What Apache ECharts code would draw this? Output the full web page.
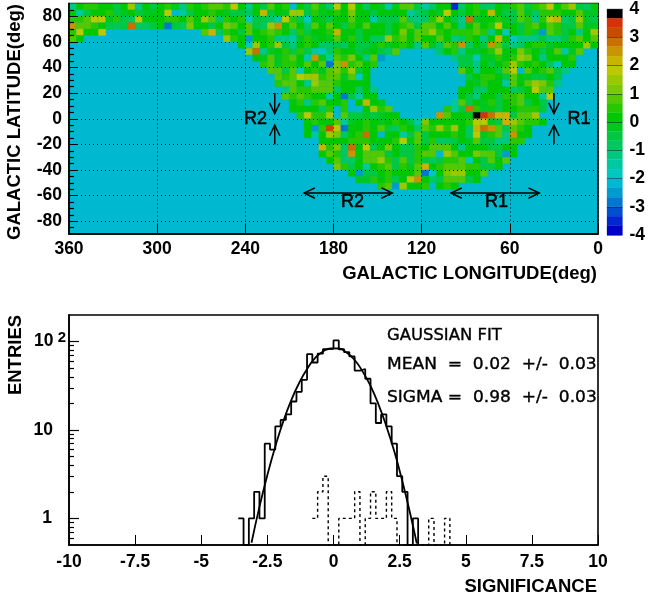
<!DOCTYPE html>
<html><head><meta charset="utf-8">
<style>html,body{margin:0;padding:0;background:#fff}#c{width:648px;height:601px}</style>
<script src="https://cdn.jsdelivr.net/npm/echarts@6/dist/echarts.min.js"></script>
</head><body><div id="c"></div>
<script>
// Sky map: significance per 5x5 degree cell. Each row: [first column, values...]; column 0 is longitude 355-360.
const lat85=[[0,[-1.2,.2,.5,.5,.2,.2,-.5,.2,1.6,-1.2,.2,-.5,.2,.5,-.2,-1,.5,.2,.5,.8,.8,.5,1.8,.2]],[24,[-1.2,.2,-.5,.8,.2,.5,-2,.2,-.5,.8,-.2,-.8,1.9,.2,1.9,.2,-.8,.2,-.2,-1.6,-.2,.8,.8,-.5]],[48,[-1.6,-.8,.2,.2,-3.4,-.8,.2,.5,-.8,-.8,.2,-.2,.5,.8,-.5,.5,1,1.8,.2,.8,1.5,-.5,-.8,.2]]];
const lat80=[[0,[.2,-1.4,-.5,.2,.2,.5,-.5,-.2,.2,-.5,-.2,-.2,.2,1.9,-2.1,-1.5,-.5,.2,.2,.5,.2,-.2,-.5,-.5]],[24,[-.8,.2,2.1,-.5,.2,-.2,1.5,1.5,-.5,.5,-.2,.2,.5,.2,1.2,.2,.2,-.5,.2,.2,.2,.2,-1.6,-.8]],[48,[-.5,.2,-.2,1.8,.2,-.5,.2,.5,.2,2.3,.2,-.5,-.5,.8,-.2,-.8,.5,.5,.5,.2,.2,.8,-.2,-.2]]];
const lat75=[[0,[.5,.5,.8,1.9,1.9,-.2,.5,-.5,-.8,1.9,.2,.2,.2,.5,.5,.2,.8,.2,1.5,.8,-.8,.5,.2,.5]],[24,[-1.9,-.5,-.5,-.8,-1.4,1.8,.5,-.5,-1.7,.2,-.2,-.5,.2,.2,1,.2,.2,-1.5,-.5,-.5,-.5,.8,-.8,-1]],[48,[-.8,.5,1.5,.2,-.5,-1,2.8,-.2,.2,.2,.5,-.2,-.5,.8,.5,-1.2,.5,2,2.1,-.8,-.5,1.5,-.2,-.5]]];
const lat70=[[0,[2.5,.8,.8,.5,.2,-.5,-.8,-.5,2.8,-.8,-.8,-.5,.2,-2.9,-.5,-.8,1.2,.2,.2,-.5,.2,1.2,.8,.2]],[24,[1,-.5,-.8,1.5,2.5,.2,.8,.2,-.8,.8,.2,.8,.2,-.5,.5,.2,.8,.2,.2,-.5,.2,.5,.8,-.5]],[48,[1,1,.2,.8,.2,-1,.2,1,.2,.5,1.8,.2,.2,-.5,.5,1,.2,1,.5,-.5,-.5,1,-.2,-.2]]];
const lat65=[[0,[.5,2,.2,.2,1.8]],[18,[.8,2.2,-.8,.5,.2,-.5]],[24,[1,.2,.5,.8,.5,.2,-.8,.5,-.5,.2,.2,.5,2.2,.2,.2,-.5,.2,.2,.2,-.5,.2,1.2,.2,1]],[48,[1,1.5,.5,.2,.5,.5,.5,1,.5,-1.2,.2,-1.8,.2,-.5,.5,-.5,-2.4,1,.5,-.5,.2,-1,.2,1.5]]];
const lat60=[[0,[.8,.2]],[21,[1.5,.5,.2]],[24,[-2.5,.2,.2,.5,-1.2,-1.2,-1.6,-.2,.5,-.2,.2,-.2,.8,.2,.5,-.5,.2,-.8,-.8,1.5,.5,.8,.2,1]],[48,[.2,.2,1,.2,-1.2,-.8,.5,.2,-1.2,.2,2.2,.2,-1.8,-1,-1.2,-1.2,-.5,-1.2,-1.2,-.5,.5,.8,.2,.8]]];
const lat55=[[23,[.2]],[24,[-1.8,1.5,.2,.5,1.6,-.5,-1.2,.2,.5,.2,-.8,-.8,-.5,-.8,.2,-.5,-.5,-.2,.5,-.2,.2,.5,.2,-1]],[48,[1,-.2,-.8,1,.5,2.4,-.8,.2,-.5,2.5,.8,-.5,-1.2,-.8,.2,.5,.5,-.2,.2,.2,.2,.2,1.5,.2]]];
const lat50=[[24,[1.5,2.8,-1,-.2,.2,.5,-.5,.5,-.5,-1.5,-1.7,-.8,.5,.2,.2,-.5,-.2,.2,-.5,-.8,.8]],[50,[-.8,.2,.5,-1,-.2,-.2,.2,.5,1.5,.2,.2,1.2,.5,.2,-.5,.2,.8,-1.5,-.2,.8]]];
const lat45=[[25,[.2,-.2,1,-.2,.5,.8,.2,-1.6,2.5,-.2,-1.4,.8,.5,1.2,.2,-1,.8,-2.4]],[52,[-1.2,-.5,-.5,-1.8,-.2,-.2,.5,.2,.5,1.5,1.2,.2,-1.2,.2,.2,.2,.5]]];
const lat40=[[26,[.5,1,-.2,.5,.5,.2,.8,.2,.8,-2.7,1.2,2.5,.5,1,.2,.5]],[53,[-.5,-.5,-1.2,.2,-.5,.2,.5,1.5,.5,.2,.5,.2,-.8,-1.7,.2,.2]]];
const lat35=[[27,[1,.8,-.5,1,-1.9,.2,.5,-.2,.8,1.1,.5,1.5,-.5,.2]],[53,[.8,.2,-1.2,.2,.2,-.5,.8,1.8,-2.1,.8,.2,.5,1,-.5,-1]]];
const lat30=[[28,[.8,.5,1,1.8,1.4,1.5,.5,.8,.8,-.2,1,-1.9,.2]],[54,[-.5,.2,.5,.5,.2,-.5,.8,.2,-.2,-.5,-.5,.2,-.5]]];
const lat25=[[28,[.5,.8,1,.2,-1.2,1.5,.8,.8,.5,.2,.2,.2,.2]],[54,[.2,-.2,.5,.2,.2,-1.5,1,.2,1,1.4,1.2,.5,-1]]];
const lat20=[[29,[-1,.8,.5,.5,.8,.8,.8,-.8,.2,.2,-.8,.2,-1.2]],[53,[.2,.2,-.8,-.8,.2,.2,.2,-.8,-.5,.2,1.8,.8,.8]]];
const lat15=[[29,[.8,.5,1,.5,.2,.2,-1.4,.2,-2.9,-.5,-1.6,.2,.2]],[53,[.2,-.5,-1,.2,.2,-.5,.5,.5,.8,.2,.2,-1.4,1.8]]];
const lat10=[[30,[.2,.5,-1.2,.5,1,.2,.2,.5,-2.2,.2,2.2,.2,-.2]],[52,[-1.4,.8,-.5,.2,-.2,.5,-.5,.2,.5,1,-.5,.2,-.5]]];
const lat05=[[30,[.2,.2,.2,.2,-.8,.5,-2.2,.5,-2.2,-2.2,.2,1.5,.5,1]],[51,[.5,-1.4,-.5,2.8,.5,-.2,-.2,-.5,.2,.2,.5,.5,.5,-.5]]];
const lat00=[[31,[.5,1.8,.5,.5,1.5,-2.2,.8,-.5,-.5,-.2,-.5,-.2,.2,.2]],[50,[2.4,.8,.2,.2,-.2,3.8,3.5,2.9,2.3,2.3,-.5,1,.8,1.5]]];
const latM05=[[32,[.2,.5,.2,.2,.8,-1.5,-.2,.2,.5,.2,-.2,.2,.5,.2,-.5,-1.5]],[48,[1.2,.2,.2,.2,.2,.2,.5,1.8,1.8,-.2,-.5,2.2,1.6,.8,.5,.5,.2]]];
const latM10=[[32,[.2,-2.4,.5,3.2,1.8,-2.9,.2,.2,.5,.2,1,-.5,-.8,.5,.2,-.8]],[48,[.8,.5,1.5,.5,1.6,.2,-.8,2.3,2.7,2.4,.8,-.5,.8,.5,.2]]];
const latM15=[[32,[.2,-1.6,.2,1.5,1.2,-.8,.2,.5,2.8,.2,-2.3,.2,.2,-1.6,-.5,1]],[48,[-.5,.2,.2,.2,.5,.2,-.8,1.8,-.2,.5,.8,-1.2,2.5,.2,.2]]];
const latM20=[[34,[.2,.2,.2,.2,.5,.5,.5,.2,.2,.2,.5,1.9,-.2,1]],[48,[-.5,.5,-.8,-.8,-.5,.2,-.2,.8,-.5,-.5,-1,-1.2,.5,.5]]];
const latM25=[[34,[2.2,.5,1.2,-.8,3,.2,1.8,-.5,.2,1.2,.2,-.5,-.5,.5]],[48,[.2,.8,.8,.8,.2,-1.2,.2,.2,.2,-.5,-.5,.2,.2]]];
const latM30=[[34,[.2,1,.5,-.8,2.6,.2,1,.8,.8,-.5,.2,-.5,-.5,.5]],[48,[1,.8,-2.3,1.4,.8,.2,.2,1.2,1,.8,-.5,-2.4,.2]]];
const latM35=[[35,[.2,1,-.8,-.8,.2,.8,.8,1.5,.5,-.5,.8,-.5,.5]],[48,[-.5,-.8,-.5,.5,.5,1,-1.9,.2,-.5,1,.2,.8]]];
const latM40=[[36,[1.2,.5,-.5,.2,-1.5,.2,.5,1,-.5,.5,-.2,.8]],[48,[2.2,.2,.5,.8,.8,.8,.5,.5,-.5,-.5,.2]]];
const latM45=[[38,[.2,-2.4,-.5,-.5,.2,.5,.2,.2,.2,1]],[48,[-2.9,-1.9,.2,1.2,1.5,1.5,.2,.2,1]]];
const latM50=[[39,[-.2,-.2,.5,.2,.5,-.5,.2,1.8,2.4]],[48,[.2,-.8,-.5,.8,.8,.8,-.5,.2]]];
const latM55=[[42,[.5,1,-2.4,1.5,.2,.2,.5]],[50,[.2,.5,.2]]];
const mapRows=[lat85,lat80,lat75,lat70,lat65,lat60,lat55,lat50,lat45,lat40,lat35,lat30,lat25,lat20,lat15,lat10,lat05,lat00,latM05,latM10,latM15,latM20,latM25,latM30,latM35,latM40,latM45,latM50,latM55];

// Colour scale, top level (3.67..4) first
const scaleColors=['#000000','#d83008','#c84c00','#c87000','#c89400','#c8b400','#bcc800','#9cc800','#7cc800','#54c800','#28c800','#00c800','#00c81c','#00c840','#00c860','#00c880','#00c8a0','#00c8c0','#00b8d0','#009cd0','#0078d0','#0050d0','#0028d0','#0000c8'];
const latLabels=[80,60,40,20,0,-20,-40,-60,-80];

// Histogram: entries per 0.2-wide bin
const allStart=-3.6;
const allCounts=[1,0,1,2,1,7,6,11,13,15,21,27,37,72,58,73,82,83,103,82,76,68,47,49,38,20,12,15,11,7,3,2,0,1];
const subStart=-0.8;
const subCounts=[1,2,3,0,0,1,1,1,2,0,1,2,1,1,2,1,0,0,0,0,0,0,1,0,0,1];
// Fit curve
const fitX=[-3.1,-2.8,-2.5,-2.2,-1.9,-1.6,-1.3,-1,-.7,-.4,-.1,.2,.5,.8,1.1,1.4,1.7,2,2.3,2.6,2.9,3.15];
const fitY=[.53,1.35,3.1,6.5,12.5,21.6,34,49,65,77.5,84,83.6,75,62,46,31.5,19.5,11,5.7,2.65,1.13,.52];

// Annotations on the map: [lon1,lat1,lon2,lat2]
const mapArrows=[[220,20,220,4],[220,-20,220,-5],[30,20,30,4],[30,-20,30,-5],[170,-58,200,-58],[170,-58,140,-58],[70,-58,100,-58],[70,-58,40,-58]];
const mapNotes=[['R2',233,0],['R1',13,0],['R2',167,-65],['R1',69,-65]];

const FONT='"Liberation Sans",Arial,sans-serif';
const FIT='"DejaVu Sans",sans-serif';
const ax={color:'#000',fontFamily:FONT,fontWeight:'bold',fontSize:17.5};
const levelColor=v=>scaleColors[Math.max(0,Math.min(23,Math.floor((4-v)*3)))];
const cells=[];
mapRows.forEach((segs,r)=>segs.forEach(([c0,vals])=>vals.forEach((v,i)=>cells.push([355-5*(c0+i),85-5*r,v]))));
const scaleCells=scaleColors.map((c,i)=>[0,4-(i+1)/3,4-i/3]);
const stepData=(start,counts)=>{const d=counts.map((n,i)=>[start+.2*i,n||.5]);d.push([start+.2*counts.length,.5]);return d;};
const line={lineStyle:{color:'#000',width:1.8}};
const minorLat=[];for(let v=-85;v<=85;v+=5)if(v%20)minorLat.push(v);
const logMajor=[1,10,100];
const logMinor=[.6,.7,.8,.9,2,3,4,5,6,7,8,9,20,30,40,50,60,70,80,90];
const logLabel=v=>{const n=Math.round(v);return n===100?'{a|10}{b| 2}':n===10?'{a|10}{g|}':'{a|1}{h|}';};

const option={
 animation:false,
 grid:[
  {left:69,top:3.5,width:529,height:230.5,show:true,borderColor:'#000',borderWidth:1.6,backgroundColor:'#00b8d0'},
  {left:69,top:315,width:529,height:230,show:true,borderColor:'#000',borderWidth:1.6,backgroundColor:'#fff'},
  {left:607,top:3,width:18,height:232}
 ],
 xAxis:[
  {gridIndex:0,type:'value',inverse:true,min:0,max:360,interval:60,z:10,position:'bottom',
   axisLine:{show:true,onZero:false,lineStyle:{color:'#000',width:1.6}},axisTick:{inside:true,length:10,lineStyle:{color:'#000',width:1}},
   splitLine:{show:true,lineStyle:{color:'#000',width:1,type:[1,3]}},
   axisLabel:Object.assign({margin:6,showMinLabel:true,showMaxLabel:true,hideOverlap:false},ax)},
  {gridIndex:1,type:'value',min:-10,max:10,interval:2.5,z:10,position:'bottom',
   axisLine:{show:true,onZero:false,lineStyle:{color:'#000',width:1.6}},axisTick:{inside:true,length:10,lineStyle:{color:'#000',width:1}},
   splitLine:{show:false},
   axisLabel:Object.assign({margin:8,formatter:v=>String(v)},ax)},
  {gridIndex:2,type:'value',min:0,max:1,show:false}
 ],
 yAxis:[
  {gridIndex:0,type:'value',min:-90,max:90,z:10,position:'left',
   axisLine:{show:true,onZero:false,lineStyle:{color:'#000',width:1.6}},
   axisTick:{inside:true,length:9,customValues:latLabels,lineStyle:{color:'#000',width:1}},
   splitLine:{show:true,lineStyle:{color:'#000',width:1,type:[1,3]}},
   axisLabel:Object.assign({margin:7,customValues:latLabels},ax)},
  {gridIndex:0,type:'value',min:-90,max:90,z:10,position:'left',
   axisLine:{show:false,onZero:false},axisTick:{inside:true,length:5,customValues:minorLat,lineStyle:{color:'#000',width:1.2}},
   splitLine:{show:false},axisLabel:{show:false}},
  {gridIndex:1,type:'log',logBase:10,min:.5,max:200,z:10,position:'left',
   axisLine:{show:true,onZero:false,lineStyle:{color:'#000',width:1.6}},
   axisTick:{inside:true,length:10,customValues:logMajor,lineStyle:{color:'#000',width:1.2}},
   splitLine:{show:false},minorTick:{show:false},
   axisLabel:Object.assign({margin:3,customValues:logMajor,formatter:logLabel,
     rich:{a:Object.assign({},ax),b:Object.assign({},ax,{fontSize:15,padding:[0,0,8,0]}),g:{width:13},h:{width:14}}},ax)},
  {gridIndex:1,type:'log',logBase:10,min:.5,max:200,z:10,position:'left',
   axisLine:{show:false,onZero:false},axisTick:{inside:true,length:5,customValues:logMinor,lineStyle:{color:'#000',width:1.2}},
   splitLine:{show:false},minorTick:{show:false},axisLabel:{show:false}},
  {gridIndex:2,type:'value',min:-4,max:4,interval:1,position:'right',z:10,
   axisLine:{show:false,onZero:false},axisTick:{show:false},
   splitLine:{show:true,lineStyle:{color:'#123',width:.8,opacity:.7}},
   axisLabel:Object.assign({margin:7,align:'left',showMinLabel:true,showMaxLabel:true,hideOverlap:false},ax)}
 ],
 series:[
  {type:'custom',coordinateSystem:'cartesian2d',xAxisIndex:0,yAxisIndex:0,data:cells,progressive:0,silent:true,
   encode:{x:0,y:1},
   renderItem:(p,api)=>{
     const a=api.coord([api.value(0)+5,api.value(1)+5]),b=api.coord([api.value(0),api.value(1)]);
     const f=levelColor(api.value(2));
     return {type:'rect',shape:{x:a[0],y:a[1],width:b[0]-a[0],height:b[1]-a[1]},style:{fill:f,stroke:f,lineWidth:.3}};
   }},
  {type:'custom',coordinateSystem:'cartesian2d',xAxisIndex:0,yAxisIndex:0,data:mapArrows,silent:true,z:12,clip:false,
   encode:{x:[0,2],y:[1,3]},
   renderItem:(p,api)=>{
     const s=api.coord([api.value(0),api.value(1)]),e=api.coord([api.value(2),api.value(3)]);
     const an=Math.atan2(e[1]-s[1],e[0]-s[0]),L=12,w=.45;
     const st={stroke:'#000',lineWidth:1.5,fill:null};
     return {type:'group',children:[
      {type:'line',shape:{x1:s[0],y1:s[1],x2:e[0],y2:e[1]},style:st},
      {type:'polyline',shape:{points:[[e[0]-L*Math.cos(an-w),e[1]-L*Math.sin(an-w)],e,[e[0]-L*Math.cos(an+w),e[1]-L*Math.sin(an+w)]]},style:st}
     ]};
   }},
  {type:'custom',coordinateSystem:'cartesian2d',xAxisIndex:0,yAxisIndex:0,data:mapNotes,silent:true,z:12,clip:false,
   encode:{x:1,y:2},
   renderItem:(p,api)=>{
     const c=api.coord([api.value(1),api.value(2)]);
     return {type:'text',x:c[0],y:c[1],style:{text:mapNotes[p.dataIndex][0],fill:'#000',stroke:'#000',lineWidth:.5,font:'18px '+FONT,align:'center',verticalAlign:'middle'}};
   }},
  {type:'custom',coordinateSystem:'cartesian2d',xAxisIndex:2,yAxisIndex:4,data:scaleCells,silent:true,
   encode:{y:[1,2]},
   renderItem:(p,api)=>{
     const a=api.coord([0,api.value(2)]),b=api.coord([1,api.value(1)]);
     const f=scaleColors[p.dataIndex];
     return {type:'rect',shape:{x:a[0],y:a[1],width:b[0]-a[0],height:b[1]-a[1]},style:{fill:f,stroke:f,lineWidth:.3}};
   }},
  Object.assign({type:'line',xAxisIndex:1,yAxisIndex:2,step:'end',symbol:'none',data:stepData(allStart,allCounts),z:3,silent:true},line),
  {type:'line',xAxisIndex:1,yAxisIndex:2,step:'end',symbol:'none',data:stepData(subStart,subCounts),z:3,silent:true,lineStyle:{color:'#000',width:1.4,type:[3,3]}},
  Object.assign({type:'line',xAxisIndex:1,yAxisIndex:2,smooth:true,symbol:'none',data:fitX.map((x,i)=>[x,fitY[i]]),z:4,silent:true},line)
 ],
 graphic:[
  {type:'text',x:15,y:122,rotation:Math.PI/2,style:{text:'GALACTIC LATITUDE(deg)',font:'bold 18.5px '+FONT,fill:'#000',align:'center',verticalAlign:'middle'}},
  {type:'text',x:597,y:274,style:{text:'GALACTIC LONGITUDE(deg)',font:'bold 18.5px '+FONT,fill:'#000',align:'right',verticalAlign:'middle'}},
  {type:'text',x:15.5,y:355,rotation:Math.PI/2,style:{text:'ENTRIES',font:'bold 18.5px '+FONT,fill:'#000',align:'center',verticalAlign:'middle'}},
  {type:'text',x:597,y:587,style:{text:'SIGNIFICANCE',font:'bold 18.5px '+FONT,fill:'#000',align:'right',verticalAlign:'middle'}},
  {type:'text',x:387,y:336,scaleX:1.06,style:{text:'GAUSSIAN FIT',font:'15.5px '+FIT,fill:'#000',stroke:'#000',lineWidth:.35,verticalAlign:'middle'}},
  {type:'text',x:387,y:365,scaleX:1.1,style:{text:'MEAN  =  0.02  +/-  0.03',font:'15.5px '+FIT,fill:'#000',stroke:'#000',lineWidth:.35,verticalAlign:'middle'}},
  {type:'text',x:387,y:398,scaleX:1.1,style:{text:'SIGMA =  0.98  +/-  0.03',font:'15.5px '+FIT,fill:'#000',stroke:'#000',lineWidth:.35,verticalAlign:'middle'}}
 ]
};
const chart=echarts.init(document.getElementById('c'),null,{renderer:'canvas'});
chart.setOption(option);
</script></body></html>
